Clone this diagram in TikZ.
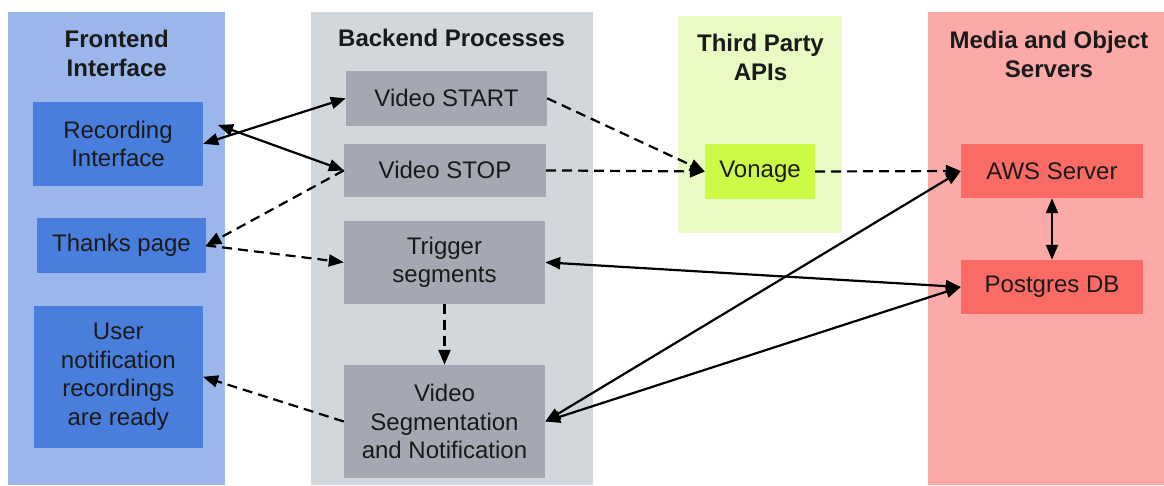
\documentclass[tikz,border=0pt]{standalone}
\usepackage{fontspec}
\setmainfont{Liberation Sans}
\usetikzlibrary{arrows.meta}
\definecolor{frontcol}{HTML}{9AB6EA}
\definecolor{frontbox}{HTML}{4A7EDC}
\definecolor{backcol}{HTML}{D2D7DC}
\definecolor{backbox}{HTML}{A3A8B2}
\definecolor{thirdcol}{HTML}{E8FBC3}
\definecolor{thirdbox}{HTML}{CCFA46}
\definecolor{mediacol}{HTML}{FBAAA8}
\definecolor{mediabox}{HTML}{F96B64}
\definecolor{ink}{HTML}{1A1A1A}
\tikzset{
  tip/.tip={Triangle[length=15pt,width=12pt]},
  title/.style={font=\fontsize{24}{29}\selectfont\bfseries, align=center, inner sep=0pt, text=ink},
  nodebox/.style={inner sep=0pt, align=center, font=\fontsize{24}{28.5}\selectfont, text=ink},
  fbox/.style={nodebox, fill=frontbox},
  bbox/.style={nodebox, fill=backbox},
  tbox/.style={nodebox, fill=thirdbox},
  mbox/.style={nodebox, fill=mediabox},
  solidarrow/.style={line width=2.2pt, tip-tip},
  dasharrow/.style={line width=2.2pt, dash pattern=on 10pt off 6pt, -tip},
}
\begin{document}
\begin{tikzpicture}[x=1pt,y=-1pt]
\useasboundingbox (0,0) rectangle (1164,485);
% columns
\fill[frontcol] (8,11.7) rectangle (225,485);
\fill[backcol] (310.7,12) rectangle (592.5,485);
\fill[thirdcol] (678,15.7) rectangle (842,232.7);
\fill[mediacol] (927.7,12) rectangle (1164,485);
% titles
\node[title] (tfront) at (116.7,53) {Frontend\\Interface};
\node[title, anchor=base] (tback) at (451.6,46.7) {Backend Processes};
\node[title] (tthird) at (760.5,57) {Third Party\\APIs};
\node[title] (tmedia) at (1049,54) {Media and Object\\Servers};
% frontend nodes
\node[fbox, minimum width=170pt, minimum height=84pt] (rec) at (118,143.8) {Recording\\Interface};
\node[fbox, minimum width=169pt, minimum height=54.7pt] (thanks) at (121.5,245.4) {Thanks page};
\node[fbox, minimum width=169pt, minimum height=142pt] (user) at (118.3,376.8) {User\\notification\\recordings\\are ready};
% backend nodes
\node[bbox, minimum width=201pt, minimum height=54.7pt] (start) at (446.5,98.3) {Video START};
\node[bbox, minimum width=202pt, minimum height=53.5pt] (stop) at (445,170.4) {Video STOP};
\node[bbox, minimum width=201pt, minimum height=83pt] (trig) at (444.5,262.3) {Trigger\\segments};
\node[bbox, minimum width=201pt, minimum height=113pt] (seg) at (444.5,421.5) {Video\\Segmentation\\and Notification};
% third party
\node[tbox, minimum width=110pt, minimum height=55pt] (vonage) at (760,171.5) {Vonage};
% media
\node[mbox, minimum width=182pt, minimum height=54pt] (aws) at (1052,171) {AWS Server};
\node[mbox, minimum width=182pt, minimum height=54pt] (pg) at (1052,287) {Postgres DB};
% connectors
\coordinate (recx) at (218,125);
\draw[solidarrow] (rec.east) -- (start.west);
\draw[solidarrow] (recx) -- (stop.west);
\draw[dasharrow] (stop.west) -- (thanks.east);
\draw[dasharrow] (thanks.east) -- (trig.west);
\draw[dasharrow] (trig.south) -- (seg.north);
\draw[dasharrow] (seg.west) -- (user.east);
\draw[dasharrow] (start.east) -- (vonage.west);
\draw[dasharrow] (stop.east) -- (vonage.west);
\draw[dasharrow] (vonage.east) -- (aws.west);
\draw[solidarrow] (aws.south) -- (pg.north);
\draw[solidarrow] (trig.east) -- (pg.west);
\draw[solidarrow] (seg.east) -- (aws.west);
\draw[solidarrow] (seg.east) -- (pg.west);
\end{tikzpicture}
\end{document}
